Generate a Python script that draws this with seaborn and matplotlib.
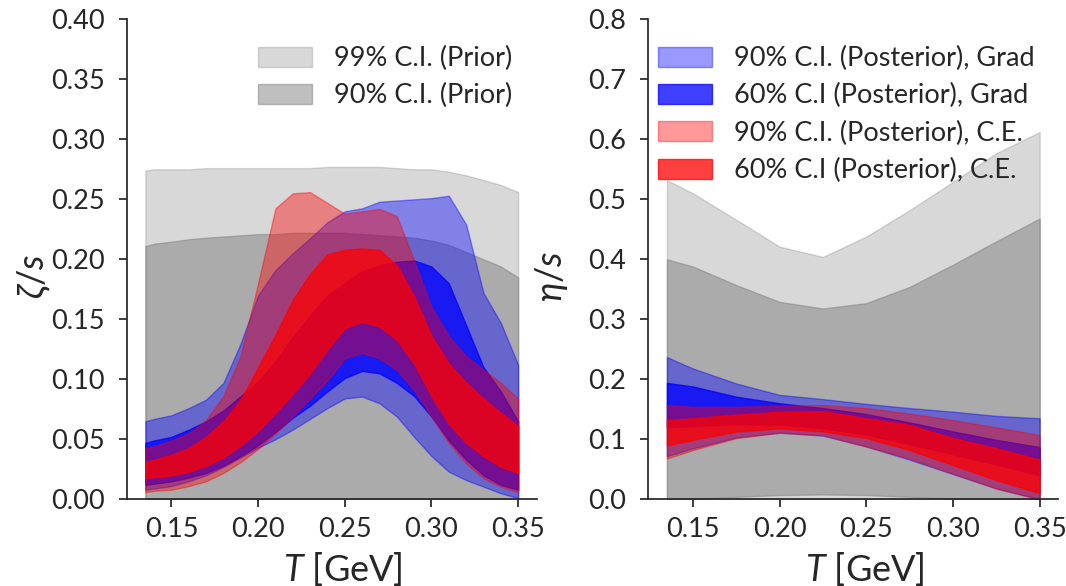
import numpy as np
import matplotlib
matplotlib.use("Agg")
import matplotlib.pyplot as plt
import seaborn as sns

# ---------------- data ----------------
T_zeta = [0.135, 0.14, 0.15, 0.16, 0.17, 0.18, 0.19, 0.20, 0.21, 0.22, 0.23, 0.24,
          0.25, 0.26, 0.27, 0.28, 0.29, 0.30, 0.31, 0.32, 0.33, 0.34, 0.35]

zeta_prior99_lo = [0.0] * 23
zeta_prior99_hi = [.274, .275, .275, .275, .276, .276, .276, .276, .276, .276, .276, .277,
                   .277, .277, .277, .276, .275, .275, .273, .270, .266, .262, .256]
zeta_prior90_lo = [0.0] * 23
zeta_prior90_hi = [.211, .213, .2147, .2167, .218, .219, .220, .221, .221, .222, .222, .222,
                   .222, .221, .220, .219, .218, .2156, .212, .206, .200, .194, .185]

zeta_grad90_lo = [.008, .009, .011, .015, .020, .027, .035, .043, .050, .058, .067, .076,
                  .084, .0856, .080, .069, .052, .036, .023, .016, .0105, .005, .001]
zeta_grad90_hi = [.065, .067, .070, .076, .083, .097, .130, .170, .191, .205, .2175, .231,
                  .240, .2425, .248, .249, .250, .251, .253, .229, .172, .147, .112]
zeta_grad60_lo = [.012, .013, .015, .018, .022, .028, .036, .045, .056, .068, .078, .090,
                  .101, .107, .105, .097, .086, .069, .049, .033, .020, .012, .008]
zeta_grad60_hi = [.047, .049, .052, .058, .065, .074, .086, .098, .115, .135, .153, .170,
                  .180, .190, .195, .198, .199, .194, .180, .145, .110, .090, .065]

zeta_ce90_lo = [.006, .007, .008, .011, .015, .022, .031, .042, .055, .069, .084, .099,
                .1175, .122, .1175, .108, .091, .069, .047, .030, .0175, .0105, .006]
zeta_ce90_hi = [.0425, .044, .049, .055, .066, .086, .120, .180, .2425, .255, .256, .247,
                .238, .240, .242, .236, .199, .160, .136, .119, .108, .097, .084]
zeta_ce60_lo = [.0175, .0185, .020, .023, .028, .035, .045, .057, .072, .088, .105, .125,
                .1425, .148, .144, .133, .113, .086, .063, .047, .036, .027, .022]
zeta_ce60_hi = [.031, .033, .037, .0425, .052, .065, .083, .110, .137, .166, .188, .204,
                .208, .209, .208, .195, .169, .136, .113, .097, .084, .072, .061]

T_eta = [0.135, 0.15, 0.175, 0.20, 0.225, 0.25, 0.275, 0.30, 0.325, 0.35]

eta_prior99_lo = [0.0] * 10
eta_prior99_hi = [.532, .510, .466, .421, .404, .438, .482, .529, .577, .612]
eta_prior90_lo = [0.0, .001, .004, .007, .008, .007, .004, .001, 0.0, 0.0]
eta_prior90_hi = [.400, .388, .357, .329, .318, .327, .354, .391, .430, .468]

eta_grad90_lo = [.072, .085, .103, .111, .106, .088, .066, .042, .018, 0.0]
eta_grad90_hi = [.237, .218, .193, .174, .167, .159, .152, .146, .139, .135]
eta_grad60_lo = [.120, .122, .125, .125, .118, .108, .092, .075, .058, .040]
eta_grad60_hi = [.194, .188, .171, .160, .152, .142, .128, .113, .099, .087]

eta_ce90_lo = [.068, .082, .102, .111, .107, .088, .068, .043, .018, 0.0]
eta_ce90_hi = [.157, .154, .154, .156, .157, .152, .143, .132, .120, .107]
eta_ce60_lo = [.090, .099, .113, .118, .113, .102, .082, .057, .032, .010]
eta_ce60_hi = [.132, .135, .141, .146, .147, .135, .124, .102, .085, .066]

labels_prior = ["99% C.I. (Prior)", "90% C.I. (Prior)"]
labels_post = ["90% C.I. (Posterior), Grad", "60% C.I (Posterior), Grad",
               "90% C.I. (Posterior), C.E.", "60% C.I (Posterior), C.E."]

x_ticks = [0.15, 0.20, 0.25, 0.30, 0.35]
zeta_ticks = [0.00, 0.05, 0.10, 0.15, 0.20, 0.25, 0.30, 0.35, 0.40]
eta_ticks = [0.0, 0.1, 0.2, 0.3, 0.4, 0.5, 0.6, 0.7, 0.8]

# ---------------- style ----------------
sns.set_theme(style="ticks")
FS = 19.5
LFS = 26
plt.rcParams.update({
    "font.family": ["Lato", "DejaVu Sans"],
    "font.size": FS,
    "axes.labelsize": LFS,
    "xtick.labelsize": FS,
    "ytick.labelsize": FS,
    "legend.fontsize": FS,
    "mathtext.fontset": "custom",
    "mathtext.rm": "Lato",
    "mathtext.it": "Lato:italic",
    "mathtext.fallback": "stixsans",
    "axes.edgecolor": "#262626",
    "text.color": "#262626",
    "xtick.color": "#262626",
    "ytick.color": "#262626",
    "axes.labelcolor": "#262626",
    "xtick.major.pad": 7,
    "ytick.major.pad": 10,
    "xtick.major.size": 6,
    "ytick.major.size": 6,
})

fig, axes = plt.subplots(1, 2, figsize=(10.66, 5.86), dpi=100)
fig.subplots_adjust(left=0.1189, right=0.9928, bottom=0.148, top=0.967, wspace=0.272)

bands_style = [("gray", 0.3), ("gray", 0.5), ("blue", 0.4), ("blue", 0.75), ("red", 0.4), ("red", 0.75)]


def draw(ax, T, bands, show_prior_labels, show_post_labels):
    all_labels = labels_prior + labels_post
    for i, ((lo, hi), (c, a)) in enumerate(zip(bands, bands_style)):
        if i < 2:
            lab = all_labels[i] if show_prior_labels else None
        else:
            lab = all_labels[i] if show_post_labels else None
        ax.fill_between(T, lo, hi, color=c, alpha=a, label=lab, linewidth=1.0)


leg_kw = dict(frameon=False, handlelength=2.0, handleheight=0.75, labelspacing=0.45)

ax = axes[0]
draw(ax, T_zeta, [(zeta_prior99_lo, zeta_prior99_hi), (zeta_prior90_lo, zeta_prior90_hi),
                  (zeta_grad90_lo, zeta_grad90_hi), (zeta_grad60_lo, zeta_grad60_hi),
                  (zeta_ce90_lo, zeta_ce90_hi), (zeta_ce60_lo, zeta_ce60_hi)], True, False)
ax.set_ylim(0, 0.4)
ax.set_yticks(zeta_ticks)
ax.set_yticklabels([f"{v:.2f}" for v in zeta_ticks])
ax.set_xticks(x_ticks)
ax.set_xticklabels([f"{v:.2f}" for v in x_ticks])
ax.set_xlabel(r"$T$ [GeV]")
ax.set_ylabel(r"$\zeta/s$")
ax.xaxis.set_label_coords(0.528, -0.105)
ax.yaxis.set_label_coords(-0.18, 0.465)
ax.legend(loc="upper right", bbox_to_anchor=(1.0, 0.995), **leg_kw)

ax = axes[1]
draw(ax, T_eta, [(eta_prior99_lo, eta_prior99_hi), (eta_prior90_lo, eta_prior90_hi),
                 (eta_grad90_lo, eta_grad90_hi), (eta_grad60_lo, eta_grad60_hi),
                 (eta_ce90_lo, eta_ce90_hi), (eta_ce60_lo, eta_ce60_hi)], False, True)
ax.set_ylim(0, 0.8)
ax.set_yticks(eta_ticks)
ax.set_yticklabels([f"{v:.1f}" for v in eta_ticks])
ax.set_xticks(x_ticks)
ax.set_xticklabels([f"{v:.2f}" for v in x_ticks])
ax.set_xlabel(r"$T$ [GeV]")
ax.set_ylabel(r"$\eta/s$")
ax.xaxis.set_label_coords(0.528, -0.105)
ax.yaxis.set_label_coords(-0.192, 0.465)
ax.legend(loc="upper left", bbox_to_anchor=(-0.035, 0.995), **leg_kw)

sns.despine(fig)
fig.savefig("out.png", dpi=100)
